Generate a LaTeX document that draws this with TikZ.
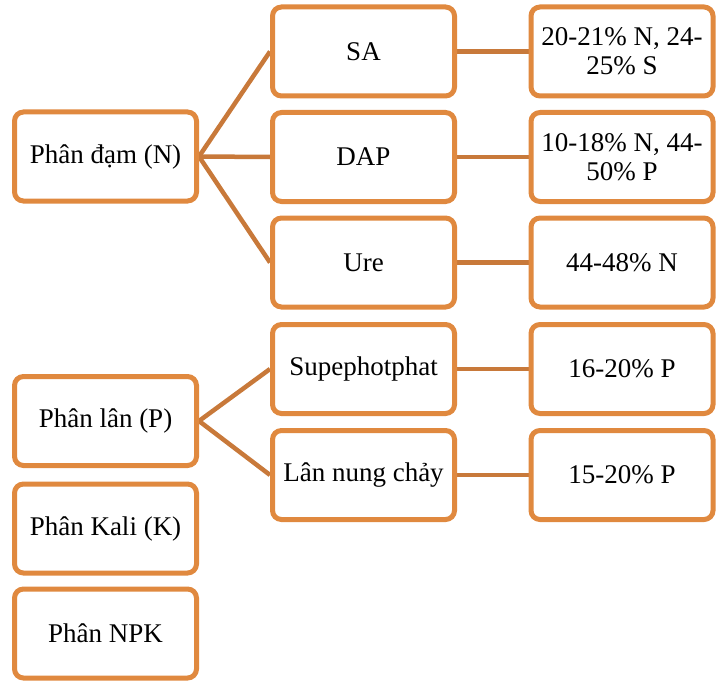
\documentclass[tikz,border=0pt]{standalone}
\usepackage{fontspec}
\setmainfont{Liberation Serif}
\usetikzlibrary{backgrounds}
\definecolor{boxc}{HTML}{E0893F}
\definecolor{linec}{HTML}{C8793A}
\begin{document}
\begin{tikzpicture}[x=1pt,y=-1pt,
  box/.style={draw=boxc, line width=5pt, rounded corners=9pt, fill=white,
    minimum width=182pt, minimum height=89pt, inner sep=0pt, align=center,
    font=\fontsize{27}{29}\selectfont},
  link/.style={draw=linec, line width=4.5pt}]
\useasboundingbox (0,0) rectangle (720,682);
% left column
\node[box] (dam)  at (105.5,156.5) {Phân đạm (N)};
\node[box] (lan)  at (105.5,421)   {Phân lân (P)};
\node[box] (kali) at (105.5,528.5) {Phân Kali (K)};
\node[box] (npk)  at (105.5,633.5) {Phân NPK};
% middle column
\node[box] (sa)   at (363.5,51.5)  {SA};
\node[box] (dap)  at (363.5,157)   {DAP};
\node[box] (ure)  at (363.5,262.5) {Ure};
\node[box] (sup)  at (363.5,369)   {Supephotphat};
\node[box] (lnc)  at (363.5,475)   {Lân nung chảy};
% right column
\node[box] (rsa)  at (622,51.5)  {20-21\% N, 24-\\25\% S};
\node[box] (rdap) at (622,157)   {10-18\% N, 44-\\50\% P};
\node[box] (rure) at (622,262.5) {44-48\% N};
\node[box] (rsup) at (622,369)   {16-20\% P};
\node[box] (rlnc) at (622,475)   {15-20\% P};
\begin{scope}[on background layer]
\draw[link] (dam.east) -- (sa.west);
\draw[link] (dam.east) -- (dap.west);
\draw[link] (dam.east) -- (ure.west);
\draw[link] (lan.east) -- (sup.west);
\draw[link] (lan.east) -- (lnc.west);
\draw[link] (sa.east) -- (rsa.west);
\draw[link] (dap.east) -- (rdap.west);
\draw[link] (ure.east) -- (rure.west);
\draw[link] (sup.east) -- (rsup.west);
\draw[link] (lnc.east) -- (rlnc.west);
\end{scope}
\end{tikzpicture}
\end{document}
